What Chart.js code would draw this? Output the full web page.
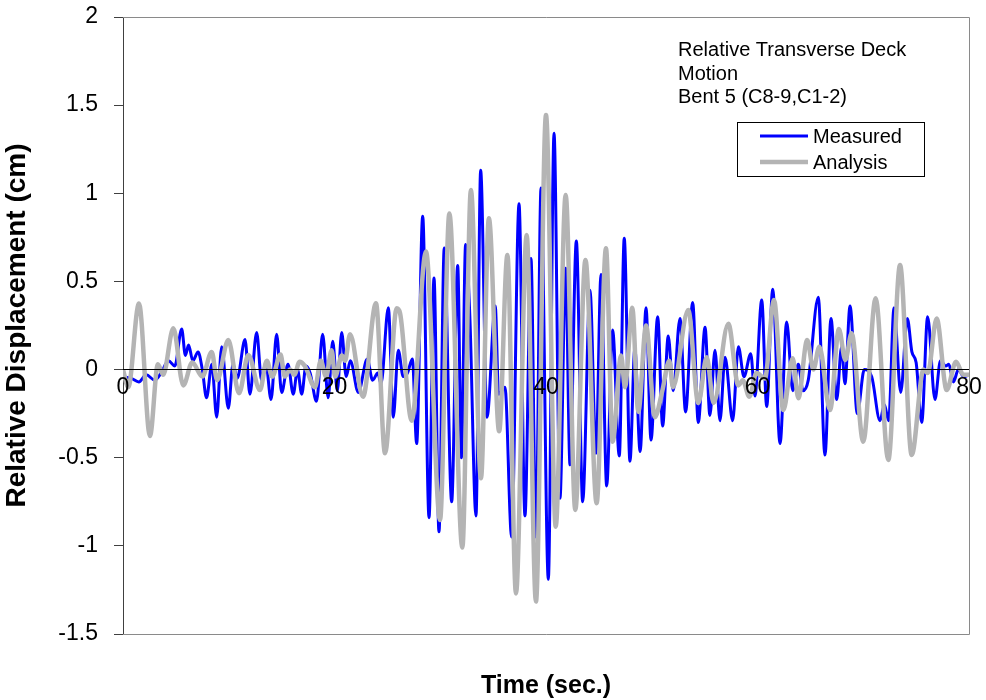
<!DOCTYPE html>
<html>
<head>
<meta charset="utf-8">
<script src="https://cdn.jsdelivr.net/npm/chart.js@4.4.1/dist/chart.umd.min.js"></script>
<style>
html,body{margin:0;padding:0;background:#fff;}
#wrap{width:986px;height:700px;}
</style>
</head>
<body>
<div id="wrap"><canvas id="c" width="986" height="700"></canvas></div>
<script>
// ---- data ----
const seriesNames = ['Measured', 'Analysis'];
const annotationLines = ['Relative Transverse Deck', 'Motion', 'Bent 5 (C8-9,C1-2)'];
const xTitle = 'Time (sec.)';
const yTitle = 'Relative Displacement (cm)';

const timeMeasured = [0,0.8,1.5,2.2,3.0,3.6,4.3,4.9,5.55,5.9,6.2,6.6,7.1,7.5,7.9,8.4,8.86,9.33,9.96,10.4,10.8,11.54,12.0,12.64,13.1,13.5,14.0,14.53,15.0,
 15.6,16.1,16.5,16.9,17.3,17.7,18.3,18.88,19.4,19.83,20.27,20.68,21.1,21.5,22.25,23.1,23.6,24.1,24.4,25.09,25.56,26.03,26.5,26.9,27.36,27.77,
 28.34,28.94,29.41,29.88,30.38,31.08,31.65,32.0,32.4,32.8,33.38,33.82,34.42,35.2,35.52,36.12,36.75,37.45,38.01,38.58,39.05,39.53,40.22,40.76,
 41.32,41.86,42.27,42.87,43.47,44.16,44.73,45.2,45.74,46.3,46.93,47.4,47.94,48.4,48.9,49.46,49.93,50.56,51.03,51.56,52.03,52.67,53.2,53.87,
 54.4,55.04,55.5,55.98,56.45,56.93,57.65,58.19,58.72,59.36,59.76,60.4,60.87,61.44,62.13,62.76,63.33,63.86,64.3,64.8,65.75,66.38,66.95,67.49,
 67.95,68.27,68.75,69.44,70.1,70.8,71.58,72.0,72.4,72.91,73.54,74.17,74.6,75.0,75.53,76.09,76.78,77.3,77.8,78.1,78.52,79.0,79.5,80];
const dispMeasured = [-0.04,-0.05,-0.07,-0.03,-0.06,-0.02,0.05,0.02,0.23,0.08,0.14,0.05,0.10,0.0,-0.16,0.03,-0.27,0.13,-0.22,0.03,-0.05,0.17,-0.14,0.21,-0.06,0.04,-0.17,0.20,-0.13,
 0.03,-0.14,0.0,-0.14,0.02,-0.02,-0.18,0.20,-0.16,0.16,-0.12,0.21,-0.04,0.05,-0.13,0.06,-0.06,-0.02,-0.08,0.35,-0.27,0.11,-0.04,-0.02,0.06,-0.42,
 0.87,-0.84,0.52,-0.92,0.69,-0.75,0.59,-0.50,0.71,0.30,-0.83,1.13,-0.27,0.36,-0.14,-0.10,-0.95,0.94,-0.83,0.63,-0.95,1.03,-1.19,1.34,
 -0.73,0.575,-0.54,0.73,-0.75,0.45,-0.475,0.54,-0.66,0.225,-0.49,0.745,-0.52,0.12,-0.465,0.35,-0.40,0.30,-0.32,0.19,-0.12,0.29,-0.24,0.38,
 -0.30,0.24,-0.26,0.11,-0.29,0.07,-0.29,0.13,-0.04,0.09,-0.15,0.395,-0.21,0.455,-0.42,0.27,-0.12,0.03,-0.12,-0.06,0.41,-0.485,0.29,-0.17,
 0.13,-0.08,0.36,-0.25,0.0,-0.04,-0.29,-0.20,-0.29,0.35,-0.13,0.29,0.10,0.04,-0.30,0.30,-0.17,0.05,0.02,0.03,-0.07,0.0,-0.04,-0.03];

const timeAnalysis = [0,0.5,1.51,2.55,3.3,3.8,4.76,5.7,6.55,7.5,8.39,8.9,9.96,10.97,11.85,12.95,13.6,14.1,14.9,15.3,15.8,16.2,16.7,17.2,18.16,18.7,19.2,19.73,20.05,20.7,21.0,21.47,
 22.7,23.92,24.78,25.88,26.2,27.3,28.65,29.98,30.86,32.09,32.9,33.85,34.6,35.57,36.35,37.16,38.17,39.05,40.0,40.92,41.86,42.77,43.73,44.79,45.67,46.3,47.1,47.47,48.16,
 48.73,49.46,50.3,51.0,51.66,52.0,53.45,54.4,55.2,55.85,57.24,58.19,58.6,59.23,59.9,60.7,61.56,62.44,63.33,63.86,64.7,65.28,65.85,66.86,67.7,68.3,68.9,70.0,71.17,72.37,73.48,
 74.58,75.7,76.1,76.94,77.89,78.77,79.47,80];
const dispAnalysis = [0.0,-0.10,0.375,-0.377,0.03,-0.03,0.234,-0.09,0.04,-0.04,0.10,-0.06,0.168,-0.134,0.083,-0.116,0.05,-0.04,0.085,-0.04,0.0,-0.03,0.045,0.02,-0.10,0.05,-0.04,0.11,-0.04,0.08,0.05,0.20,
 -0.154,0.376,-0.475,0.348,0.32,-0.29,0.67,-0.853,0.886,-1.01,1.018,-0.617,0.858,-0.35,0.65,-1.27,0.763,-1.316,1.444,-0.891,0.99,-0.796,0.622,-0.758,0.688,-0.409,0.08,-0.10,0.35,
 -0.24,0.25,-0.27,-0.12,0.05,-0.10,0.338,-0.19,0.07,-0.19,0.26,-0.09,-0.06,-0.154,-0.02,-0.05,0.395,-0.23,0.064,-0.163,0.168,0.0,0.13,-0.23,0.23,0.055,0.206,-0.409,0.404,-0.513,0.593,
 -0.485,0.0,-0.02,0.29,-0.116,0.045,-0.03,-0.03];

const seriesColors = ['#0000FF', '#B4B4B4'];
const seriesWidths = [3, 4.5];

// ---- build ----
const FONT = "'Liberation Sans', Arial, Helvetica, sans-serif";
function pts(t, v){ return t.map((x,i)=>({x:x, y:v[i]})); }

const framePlugin = {
  id: 'frame',
  afterDraw(chart){
    const {ctx, chartArea:a} = chart;
    ctx.save();
    ctx.strokeStyle = '#8a8a8a';
    ctx.lineWidth = 1;
    ctx.beginPath();
    ctx.moveTo(a.left, a.top + 0.5); ctx.lineTo(a.right + 0.5, a.top + 0.5);
    ctx.lineTo(a.right + 0.5, a.bottom + 0.5); ctx.lineTo(a.left, a.bottom + 0.5);
    ctx.stroke();
    // annotation text
    ctx.fillStyle = '#000';
    ctx.font = '20px ' + FONT;
    ctx.textBaseline = 'middle';
    ctx.textAlign = 'left';
    const ty = [50, 74, 97];
    annotationLines.forEach((s,i)=>ctx.fillText(s, 678, ty[i]));
    // legend
    const lx = 737, ly = 122, lw = 187, lh = 54;
    ctx.fillStyle = '#fff';
    ctx.fillRect(lx, ly, lw, lh);
    ctx.strokeStyle = '#000';
    ctx.lineWidth = 1;
    ctx.strokeRect(lx + 0.5, ly + 0.5, lw, lh);
    const rows = [136, 162];
    chart.data.datasets.forEach((ds,i)=>{
      ctx.strokeStyle = ds.borderColor;
      ctx.lineWidth = ds.borderWidth;
      ctx.beginPath(); ctx.moveTo(760, rows[i]); ctx.lineTo(808, rows[i]); ctx.stroke();
      ctx.fillStyle = '#000';
      ctx.font = '20px ' + FONT;
      ctx.fillText(ds.label, 813, rows[i] + 1);
    });
    // x axis title, centred on the plot area
    ctx.font = 'bold 25px ' + FONT;
    ctx.textAlign = 'center';
    ctx.fillText(xTitle, (a.left + a.right) / 2, 686);
    ctx.restore();
  }
};

new Chart(document.getElementById('c'), {
  type: 'line',
  data: {
    datasets: [
      {label: seriesNames[0], data: pts(timeMeasured, dispMeasured), borderColor: seriesColors[0], borderWidth: seriesWidths[0],
       pointRadius: 0, cubicInterpolationMode: 'monotone', fill: false, order: 2},
      {label: seriesNames[1], data: pts(timeAnalysis, dispAnalysis), borderColor: seriesColors[1], borderWidth: seriesWidths[1],
       pointRadius: 0, cubicInterpolationMode: 'monotone', fill: false, order: 1}
    ]
  },
  options: {
    responsive: false,
    animation: false,
    devicePixelRatio: 1,
    layout: {padding: {left: 0, right: 17, top: 17, bottom: 66}},
    plugins: {
      legend: {display: false},
      tooltip: {enabled: false},
      title: {display: false}
    },
    scales: {
      x: {
        type: 'linear', min: 0, max: 80, position: {y: 0},
        ticks: {stepSize: 20, color: '#000', font: {family: FONT, size: 23}, padding: 4, maxRotation: 0, autoSkip: false, z: 2},
        grid: {display: false, drawOnChartArea: false, tickLength: 0},
        border: {display: true, color: '#000', width: 1, z: 2}
      },
      y: {
        type: 'linear', min: -1.5, max: 2,
        ticks: {stepSize: 0.5, color: '#000', font: {family: FONT, size: 23}, padding: 16,
                callback: v => String(Math.round(v * 10) / 10)},
        grid: {display: true, drawOnChartArea: false, tickLength: 9, color: '#404040'},
        border: {display: true, color: '#404040', width: 1},
        title: {display: true, text: yTitle, color: '#000', font: {family: FONT, size: 28, weight: 'bold'}, padding: {top: 0, bottom: 0}},
        afterFit(s){ s.width = 123; s.paddingTop = 0; s.paddingBottom = 0; }
      }
    }
  },
  plugins: [framePlugin]
});
</script>
</body>
</html>
